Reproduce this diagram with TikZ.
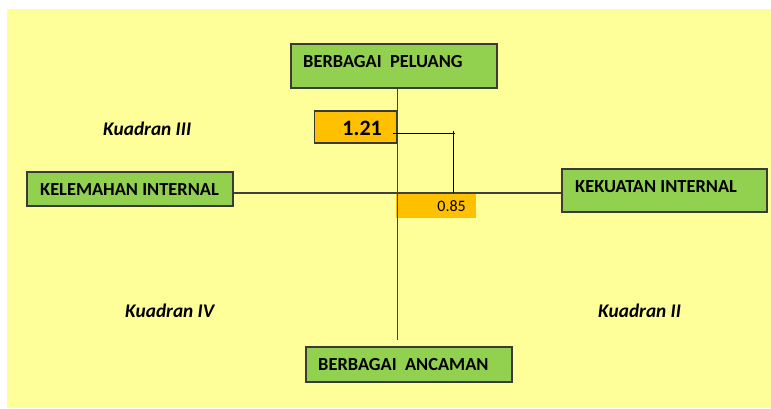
\documentclass[tikz,border=0pt]{standalone}
\usepackage{fontspec}
\setmainfont{Carlito}
\definecolor{paper}{HTML}{FFFF99}
\definecolor{leaf}{HTML}{92D050}
\definecolor{amber}{HTML}{FFC000}
\definecolor{rim}{HTML}{3A3A3A}
\definecolor{axis}{HTML}{404040}
\tikzset{
  box/.style={draw=rim, line width=1.1pt, fill=leaf, inner sep=0pt},
  boxtext/.style={anchor=base west, inner sep=0pt, font=\fontsize{18.4}{21}\selectfont\bfseries},
  quad/.style={anchor=base west, inner sep=0pt, font=\fontsize{19.3}{22}\selectfont\bfseries\itshape},
  axisline/.style={draw=axis, line width=1.1pt},
  guide/.style={draw=black, line width=0.9pt},
}
\begin{document}
\begin{tikzpicture}[x=1pt, y=-1pt]
  \useasboundingbox (0,0) rectangle (771,408);
  \fill[white] (0,0) rectangle (771,408);
  \fill[paper] (7,9) rectangle (771,408);

  % four labelled boxes at the ends of the axes
  \node[box, minimum width=206, minimum height=44] (peluang) at (394,66) {};
  \node[boxtext] (peluangT) at (303,67) {BERBAGAI\ \ PELUANG};

  \node[box, minimum width=206, minimum height=34] (kelemahan) at (130,189) {};
  \node[boxtext] (kelemahanT) at (40,195) {KELEMAHAN INTERNAL};

  \node[box, minimum width=205, minimum height=43] (kekuatan) at (664.5,190.5) {};
  \node[boxtext] (kekuatanT) at (575,192) {KEKUATAN INTERNAL};

  \node[box, minimum width=206, minimum height=35] (ancaman) at (409,364.5) {};
  \node[boxtext] (ancamanT) at (318,370.5) {BERBAGAI\ \ ANCAMAN};

  % score boxes
  \node[draw=rim, line width=1.1pt, fill=amber, minimum width=82, minimum height=32, inner sep=0pt] (ifas) at (355.5,127) {};
  \node[anchor=base east, inner sep=0pt, font=\fontsize{22}{26}\selectfont\bfseries] (ifasT) at (382,135) {1.21};
  \node[fill=amber, minimum width=80, minimum height=24, inner sep=0pt] (efas) at (436,206) {};
  \node[anchor=base east, inner sep=0pt, font=\fontsize{16}{19}\selectfont] (efasT) at (466,211.5) {0.85};

  % quadrant names
  \node[quad] (q3) at (103,135) {Kuadran III};
  \node[quad] (q4) at (125,317) {Kuadran IV};
  \node[quad] (q2) at (598,317) {Kuadran II};

  % axes
  \coordinate (vx) at (397.5,0);
  \coordinate (hy) at (0,193);
  \coordinate (vbot) at (397.5,340);
  \path[axisline] (peluang.south -| vx) -- (vbot);
  \path[axisline] (kelemahan.east |- hy) -- (kekuatan.west |- hy);

  % position of the scores
  \coordinate (g1) at (393,133);
  \coordinate (g2) at (455,133);
  \coordinate (g3) at (453,131);
  \coordinate (g4) at (453,193);
  \path[guide] (g1) -- (g2);
  \path[guide] (g3) -- (g4);
\end{tikzpicture}
\end{document}
